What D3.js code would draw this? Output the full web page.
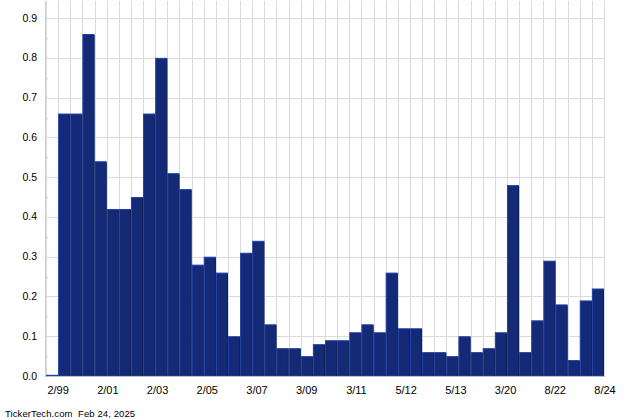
<!DOCTYPE html>
<html>
<head>
<meta charset="utf-8">
<script src="https://cdn.jsdelivr.net/npm/d3@7"></script>
<style>
  html, body { margin: 0; padding: 0; background: #fff; }
  svg { display: block; }
  text { font-family: "Liberation Sans", Arial, Helvetica, sans-serif; fill: #000; }
</style>
</head>
<body>
<svg id="chart" width="640" height="420"></svg>
<script>
// ---- data ----
const values = [0.003, 0.66, 0.66, 0.86, 0.54, 0.42, 0.42, 0.45, 0.66, 0.80,
                0.51, 0.47, 0.28, 0.30, 0.26, 0.10, 0.31, 0.34, 0.13, 0.07,
                0.07, 0.05, 0.08, 0.09, 0.09, 0.11, 0.13, 0.11, 0.26, 0.12,
                0.12, 0.06, 0.06, 0.05, 0.10, 0.06, 0.07, 0.11, 0.48, 0.06,
                0.14, 0.29, 0.18, 0.04, 0.19, 0.22];
const xTickLabels = ["2/99", "2/01", "2/03", "2/05", "3/07", "3/09", "3/11",
                     "5/12", "5/13", "3/20", "8/22", "8/24"];
const yTicks = [0, 0.1, 0.2, 0.3, 0.4, 0.5, 0.6, 0.7, 0.8, 0.9];
const yMinorTicks = [0.05, 0.15, 0.25, 0.35, 0.45, 0.55, 0.65, 0.75, 0.85];
const footerText = "TickerTech.com  Feb 24, 2025";

(function () {
// ---- layout ----
const mLeft = 46, mRight = 604, mTop = 1, mBottom = 376;
const svg = d3.select("#chart");

const x = d3.scaleBand()
  .domain(d3.range(values.length))
  .range([mLeft, mRight])
  .paddingInner(0).paddingOuter(0);

const y = d3.scaleLinear()
  .domain([0, 0.943])
  .range([mBottom, mTop]);

const xLab = d3.scalePoint()
  .domain(xTickLabels)
  .range([x(1), mRight + 1]);

// vertical gridlines at every bar boundary
const boundaries = d3.range(values.length + 1).map(i => mLeft + i * x.step());
svg.append("g").selectAll("line")
  .data(boundaries).join("line")
  .attr("x1", d => Math.round(d) + 0.5).attr("x2", d => Math.round(d) + 0.5)
  .attr("y1", mTop).attr("y2", mBottom)
  .attr("stroke", "#dadada").attr("stroke-width", 1);

// horizontal gridlines
svg.append("g").selectAll("line")
  .data(yTicks).join("line")
  .attr("x1", mLeft - 1).attr("x2", mRight + 1)
  .attr("y1", d => Math.round(y(d)) + 0.5).attr("y2", d => Math.round(y(d)) + 0.5)
  .attr("stroke", "#dadada").attr("stroke-width", 1);

// minor ticks
svg.append("g").selectAll("line")
  .data(yMinorTicks).join("line")
  .attr("x1", mLeft - 1).attr("x2", mLeft + 2)
  .attr("y1", d => Math.round(y(d)) + 0.5).attr("y2", d => Math.round(y(d)) + 0.5)
  .attr("stroke", "#cfcfcf").attr("stroke-width", 1);

// left axis line
svg.append("line")
  .attr("x1", mLeft - 0.5).attr("x2", mLeft - 0.5)
  .attr("y1", mTop).attr("y2", mBottom + 1)
  .attr("stroke", "#d0d0d0");

// bars
svg.append("g").selectAll("rect")
  .data(values).join("rect")
  .attr("x", (d, i) => x(i) + 0.5)
  .attr("y", d => y(d) + 0.5)
  .attr("width", x.bandwidth() - 1)
  .attr("height", d => Math.max(0.5, y(0) - y(d) - 0.5))
  .attr("fill", "#142a76")
  .attr("stroke", "#2140a8")
  .attr("stroke-width", 1);

// dark right edges
svg.append("g").selectAll("line")
  .data(values).join("line")
  .attr("x1", (d, i) => x(i) + x.bandwidth() - 0.5)
  .attr("x2", (d, i) => x(i) + x.bandwidth() - 0.5)
  .attr("y1", d => y(d) + 1).attr("y2", y(0))
  .attr("stroke", "#0e1d52").attr("stroke-width", 1);

// baseline
svg.append("line")
  .attr("x1", mLeft - 1).attr("x2", mRight + 1)
  .attr("y1", mBottom + 0.5).attr("y2", mBottom + 0.5)
  .attr("stroke", "#bdbdbd");

// y labels
svg.append("g").selectAll("text")
  .data(yTicks).join("text")
  .attr("x", 37)
  .attr("y", d => y(d) + 3.5)
  .attr("text-anchor", "end")
  .attr("font-size", 10.5)
  .text(d => d.toFixed(1));

// x labels
svg.append("g").selectAll("text")
  .data(xTickLabels).join("text")
  .attr("x", d => xLab(d))
  .attr("y", 394)
  .attr("text-anchor", "middle")
  .attr("font-size", 11)
  .text(d => d);

// footer
svg.append("text")
  .attr("x", 5).attr("y", 417)
  .attr("font-size", 9.5)
  .attr("letter-spacing", 0.1)
  .style("white-space", "pre")
  .text(footerText);
})();
</script>
</body>
</html>
